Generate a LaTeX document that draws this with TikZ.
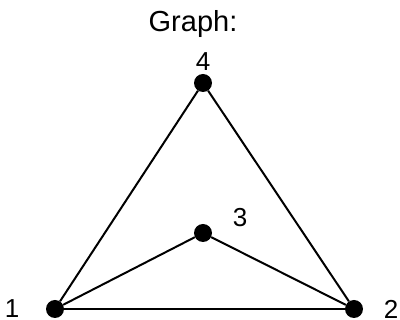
\documentclass[tikz,border=0pt]{standalone}
\usepackage{fontspec}
\setmainfont{Liberation Sans}
\tikzset{
  vert/.style={circle,fill=black,inner sep=0pt,minimum size=18pt},
  lbl/.style={inner sep=0pt,font=\fontsize{26}{30}\selectfont},
  edge/.style={line width=2pt}
}
\begin{document}
\begin{tikzpicture}[x=1pt,y=-1pt]
\useasboundingbox (0,0) rectangle (400,320);
\node[lbl,font=\fontsize{29}{33}\selectfont] (title) at (193,24) {Graph:};
\node[vert] (v1) at (55,309) {};
\node[vert] (v2) at (354,309) {};
\node[vert] (v3) at (203,233) {};
\node[vert] (v4) at (203,83) {};
\node[lbl] (l1) at (12,309) {1};
\node[lbl] (l2) at (391,309) {2};
\node[lbl] (l3) at (240,218) {3};
\node[lbl] (l4) at (203,62) {4};
\draw[edge] (v1) -- (v2);
\draw[edge] (v1) -- (v4);
\draw[edge] (v2) -- (v4);
\draw[edge] (v1) -- (v3);
\draw[edge] (v3) -- (v2);
\end{tikzpicture}
\end{document}
